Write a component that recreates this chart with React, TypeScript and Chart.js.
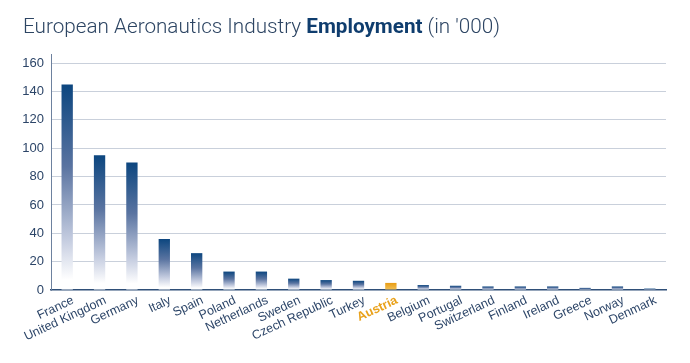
import React, { useEffect, useRef } from "react";
import { Chart, registerables } from "chart.js";

Chart.register(...registerables);

const categories = [
  "France", "United Kingdom", "Germany", "Italy", "Spain", "Poland", "Netherlands",
  "Sweden", "Czech Republic", "Turkey", "Austria", "Belgium", "Portugal",
  "Switzerland", "Finland", "Ireland", "Greece", "Norway", "Denmark",
];
const employment = [145, 95, 90, 36, 26, 13, 13, 8, 7, 6.5, 5, 3.5, 3, 2.5, 2.5, 2.5, 1.5, 2.5, 1];
const yTicks = [0, 20, 40, 60, 80, 100, 120, 140, 160];
const highlight = "Austria";

const NAVY = "#2c4568";
const ORANGE = "#e9a21c";

export default function App() {
  const ref = useRef<HTMLCanvasElement | null>(null);

  useEffect(() => {
    document.body.style.margin = "0";
    const canvas = ref.current!;
    const chart = new Chart(canvas, {
      type: "bar",
      data: {
        labels: categories,
        datasets: [
          {
            data: employment,
            barPercentage: 0.35,
            categoryPercentage: 1,
            backgroundColor: (ctx: any) => {
              const c = ctx.chart;
              const label = categories[ctx.dataIndex];
              const ys = c.scales?.y;
              if (!ys || !c.chartArea) return "#0d4580";
              const v = employment[ctx.dataIndex];
              const top = ys.getPixelForValue(v);
              const bottom = ys.getPixelForValue(0);
              const g = c.ctx.createLinearGradient(0, top, 0, bottom);
              if (label === highlight) {
                g.addColorStop(0, "#e89c12");
                g.addColorStop(1, "#f2c25a");
                return g;
              }
              g.addColorStop(0, "#0c467f");
              g.addColorStop(0.4, "#5a74a1");
              g.addColorStop(0.75, "#c3cbdf");
              g.addColorStop(0.95, "#ffffff");
              g.addColorStop(1, "#ffffff");
              return g;
            },
            borderWidth: 0,
          },
        ],
      },
      options: {
        animation: false,
        responsive: false,
        maintainAspectRatio: false,
        layout: { padding: { top: 54, right: 24, left: 0, bottom: 0 } },
        plugins: {
          legend: { display: false },
          tooltip: { enabled: false },
          title: { display: false },
        },
        scales: {
          x: {
            offset: true,
            afterFit: (s: any) => {
              s.height = 73;
            },
            grid: { display: false, drawTicks: false },
            border: { display: true, color: "#2f4f78", width: 1.5 },
            ticks: {
              autoSkip: false,
              minRotation: 25,
              maxRotation: 25,
              padding: 3,
              labelOffset: 6,
              font: (ctx: any) => ({
                family: "'Liberation Sans', Arial, sans-serif",
                size: 12.5,
                weight: categories[ctx.index] === highlight ? "bold" : "normal",
              }),
              color: (ctx: any) => (categories[ctx.index] === highlight ? ORANGE : NAVY),
            },
          },
          y: {
            min: 0,
            max: 166.5,
            afterFit: (s: any) => {
              s.width = 51;
            },
            afterBuildTicks: (s: any) => {
              s.ticks = yTicks.map((v) => ({ value: v }));
            },
            grid: {
              color: (ctx: any) => (ctx.tick && ctx.tick.value === 0 ? "rgba(0,0,0,0)" : "#c9d0db"),
              lineWidth: 1,
              drawTicks: false,
            },
            border: { display: true, color: "#6d819e", width: 1 },
            ticks: {
              padding: 7,
              font: { family: "'Liberation Sans', Arial, sans-serif", size: 13 },
              color: NAVY,
            },
          },
        },
      },
    } as any);
    return () => chart.destroy();
  }, []);

  return (
    <div style={{ position: "relative", width: 690, height: 363, background: "#fff" }}>
      <div
        style={{
          position: "absolute",
          left: 23,
          top: 14,
          fontFamily: "Roboto, 'Liberation Sans', Arial, sans-serif",
          fontWeight: 300,
          fontSize: 20.7,
          color: "#2d4563",
          whiteSpace: "nowrap",
        }}
      >
        European Aeronautics Industry{" "}
        <span style={{ fontWeight: 700, color: "#0f3d6e" }}>Employment</span> (in '000)
      </div>
      <canvas ref={ref} width={690} height={363} style={{ display: "block" }} />
    </div>
  );
}
